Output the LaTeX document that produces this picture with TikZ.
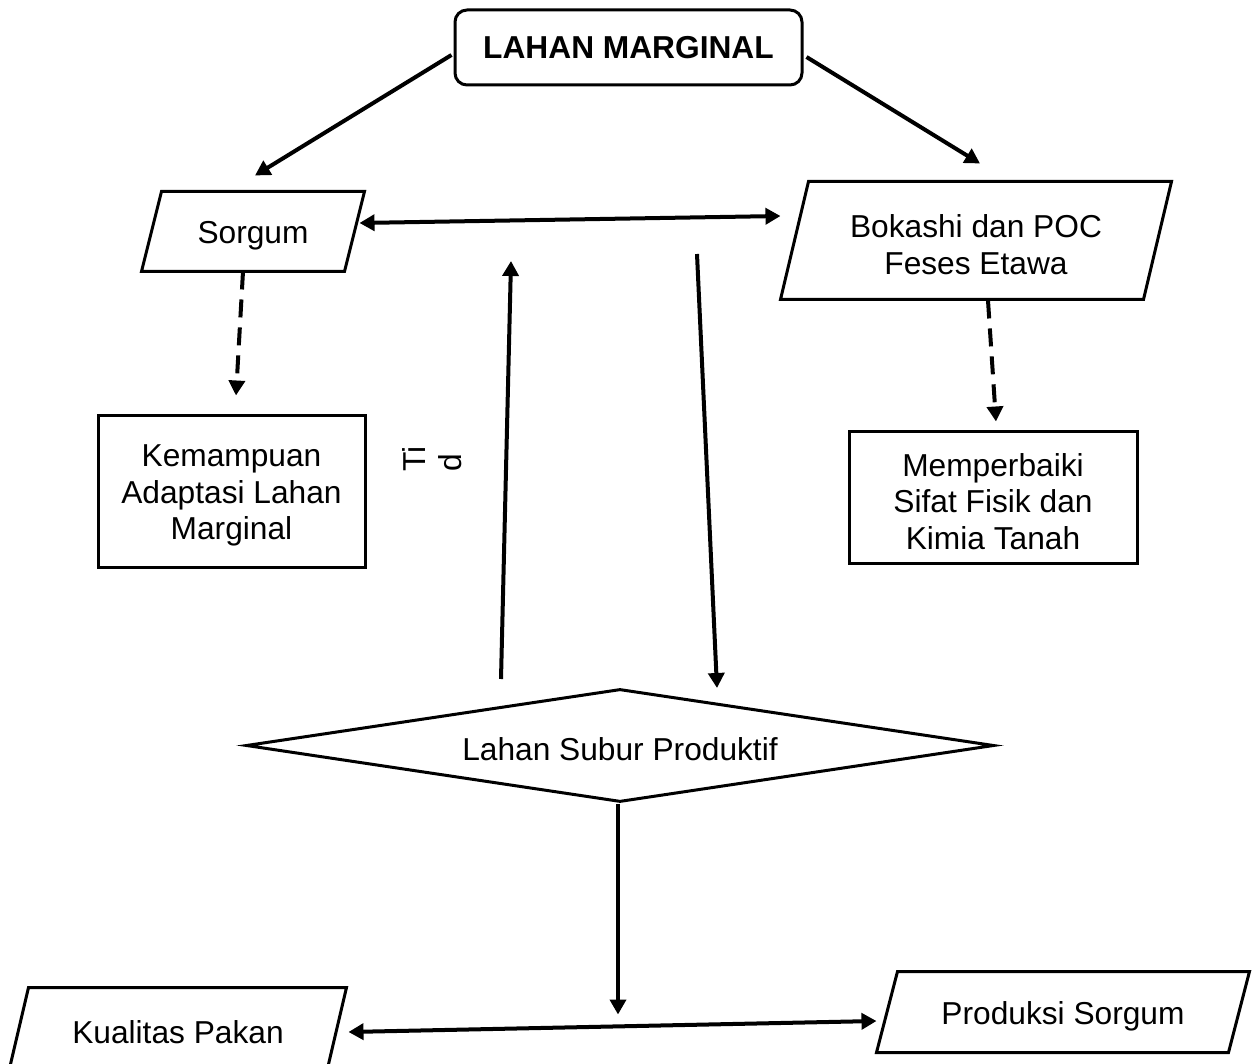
\documentclass[tikz,border=0pt]{standalone}
\usepackage{fontspec}
\setmainfont{Liberation Sans}
\usetikzlibrary{shapes.geometric,arrows.meta,calc}
\newcommand\drawpara[2]{\draw[line width=1.5pt, line join=miter] ([xshift=#2]#1.north west) -- (#1.north east) -- ([xshift=-#2]#1.south east) -- (#1.south west) -- cycle;}
\begin{document}
\begin{tikzpicture}[x=0.5pt,y=-0.5pt,
  every node/.style={font=\fontsize{15.85}{18.3}\selectfont, align=center, inner sep=0pt, line width=1.5pt},
  tstrut/.style={execute at begin node={\rule{0pt}{15.5pt}}},
  parabox/.style={rectangle, tstrut},
  plainbox/.style={draw, rectangle},
  arr/.style={line width=2pt, -{Triangle[length=7.5pt,width=8pt]}},
  dblarr/.style={line width=2pt, {Triangle[length=7.5pt,width=8pt]}-{Triangle[length=7.5pt,width=8pt]}},
  dasharr/.style={arr, dash pattern=on 9pt off 5pt},
]
\useasboundingbox (0,0) rectangle (1254,1064);

% nodes
\node[draw, rounded corners=6pt, minimum width=173.5pt, minimum height=37.5pt, font=\fontsize{15.85}{18.3}\selectfont\bfseries] (LM) at (628.5,47.5) {LAHAN MARGINAL};

\node[parabox, minimum width=110pt, minimum height=38.5pt] (S) at (253,231.5) {Sorgum};
\drawpara{S}{10pt}
\node[rectangle, minimum width=194pt, minimum height=57.5pt] (B) at (976,240.5) {};
\drawpara{B}{14pt}
\node (Bt) at ([yshift=-2pt]B.center) {Bokashi dan POC\\Feses Etawa};

\node[plainbox, minimum width=133.5pt, minimum height=75.5pt] (K) at (231.5,491.5) {};
\node (Kt) at ([yshift=-2pt]K.center) {Kemampuan\\Adaptasi Lahan\\Marginal};
\node[plainbox, minimum width=144pt, minimum height=65.5pt] (M) at (993,497.5) {};
\node (Mt) at ([yshift=-2pt]M.center) {Memperbaiki\\Sifat Fisik dan\\Kimia Tanah};

\node[draw, tstrut, diamond, aspect=6.7, minimum width=374pt, minimum height=56.5pt] (D) at (620,745.5) {Lahan Subur Produktif};

\node[parabox, minimum width=167pt, minimum height=39pt] (KP) at (178,1028) {Kualitas Pakan};
\drawpara{KP}{9.5pt}
\node[parabox, minimum width=185pt, minimum height=39pt] (PS) at (1063,1012) {Produksi Sorgum};
\drawpara{PS}{10.5pt}

\node[rotate=90, align=left] (T) at (432,459) {Ti\\d};

% free ends
\coordinate (u1) at (501,679);
\coordinate (u2) at (511,261);
\coordinate (d1) at (697,254);
\coordinate (d2) at (717,688);

% connectors
\draw[arr] ([shift={(-2,7.5)}]LM.west) -- ([shift={(2,-16)}]S.north);
\draw[arr] ([shift={(3,9.5)}]LM.east) -- ([shift={(4,-18)}]B.north);
\draw[dblarr] ([shift={(-5,-8.5)}]S.east) -- ([shift={(0,-24.5)}]B.west);
\draw[dasharr] ([shift={(-10,40)}]S.center) -- ([shift={(4.5,-19)}]K.north);
\draw[dasharr] ([shift={(12,60)}]B.center) -- ([shift={(3,-9)}]M.north);
\draw[arr] (u1) -- (u2);
\draw[arr] (d1) -- (d2);
\draw[arr] ([xshift=-1pt]D.south) -- ++(0,211);
\draw[dblarr] ([shift={(2,4)}]KP.east) -- ([shift={(0,9)}]PS.west);
\end{tikzpicture}
\end{document}
